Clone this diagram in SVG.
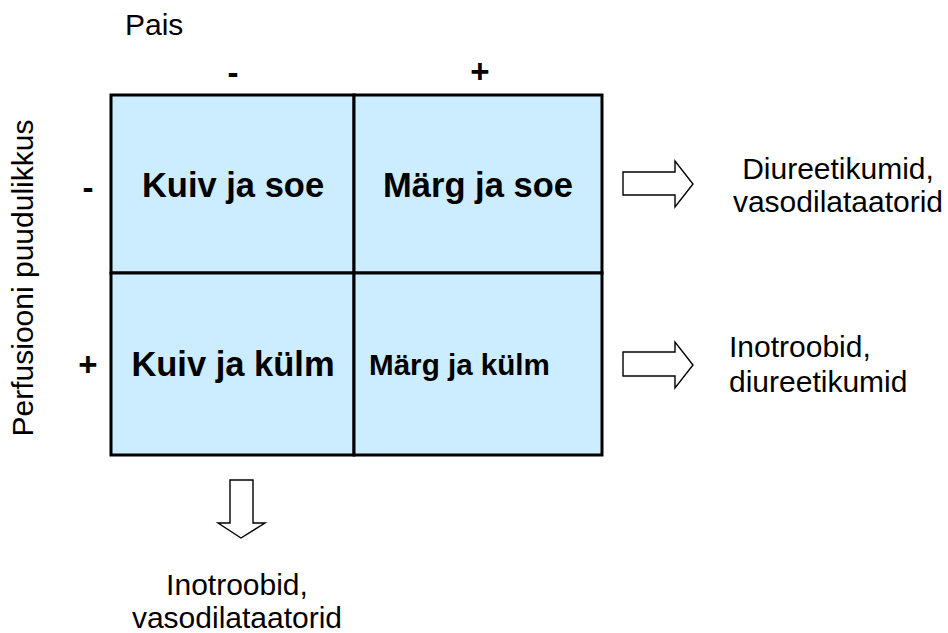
<svg xmlns="http://www.w3.org/2000/svg" width="948" height="633" viewBox="0 0 948 633">
  <style>
    .lbl { font-family: "Liberation Sans", Arial, sans-serif; font-size: 30px; fill: #000; }
    .cell-txt { font-family: "Liberation Sans", Arial, sans-serif; font-weight: bold; font-size: 34.5px; fill: #000; }
    .cell-txt.small { font-size: 29.6px; }
    .sign { font-family: "Liberation Sans", Arial, sans-serif; font-weight: bold; font-size: 33px; fill: #000; }
    .cell { fill: #CCECFF; stroke: #000; stroke-width: 3; }
    .arrow { fill: #fff; stroke: #000; stroke-width: 1.4; }
  </style>

  <rect width="948" height="633" fill="#fff"/>

  <!-- axis labels -->
  <text class="lbl" x="125" y="35">Pais</text>
  <text class="lbl" transform="translate(33,278) rotate(-90)" text-anchor="middle">Perfusiooni puudulikkus</text>
  <text class="sign" x="233" y="84" text-anchor="middle">-</text>
  <text class="sign" x="480" y="83" text-anchor="middle">+</text>
  <text class="sign" x="88" y="199" text-anchor="middle">-</text>
  <text class="sign" x="88" y="376" text-anchor="middle">+</text>

  <!-- quadrants -->
  <g id="kuiv-soe">
    <rect class="cell" x="111" y="95" width="243" height="178"/>
    <text class="cell-txt" x="233" y="197" text-anchor="middle">Kuiv ja soe</text>
  </g>
  <g id="marg-soe">
    <rect class="cell" x="354" y="95" width="248" height="178"/>
    <text class="cell-txt" x="478" y="197" text-anchor="middle">Märg ja soe</text>
  </g>
  <g id="kuiv-kulm">
    <rect class="cell" x="111" y="273" width="243" height="182"/>
    <text class="cell-txt" x="233" y="376" text-anchor="middle">Kuiv ja külm</text>
  </g>
  <g id="marg-kulm">
    <rect class="cell" x="354" y="273" width="248" height="182"/>
    <text class="cell-txt small" x="369" y="375">Märg ja külm</text>
  </g>

  <!-- block arrows -->
  <g id="connectors">
    <path class="arrow" d="M623,172 H675 V161 L693,184 L675,207 V195 H623 Z"/>
    <path class="arrow" d="M623,352 H675 V342 L693,365 L675,388 V376 H623 Z"/>
    <path class="arrow" d="M230,480 H253 V523 H265 L241,538 L218,523 H230 Z"/>
  </g>

  <!-- outcomes -->
  <g id="out-right-top">
    <text class="lbl" x="838" y="179" text-anchor="middle">Diureetikumid,</text>
    <text class="lbl" x="838" y="212" text-anchor="middle">vasodilataatorid</text>
  </g>
  <g id="out-right-bottom">
    <text class="lbl" x="729" y="357">Inotroobid,</text>
    <text class="lbl" x="729" y="392">diureetikumid</text>
  </g>
  <g id="out-bottom">
    <text class="lbl" x="237" y="595" text-anchor="middle">Inotroobid,</text>
    <text class="lbl" x="237" y="628" text-anchor="middle">vasodilataatorid</text>
  </g>
</svg>
